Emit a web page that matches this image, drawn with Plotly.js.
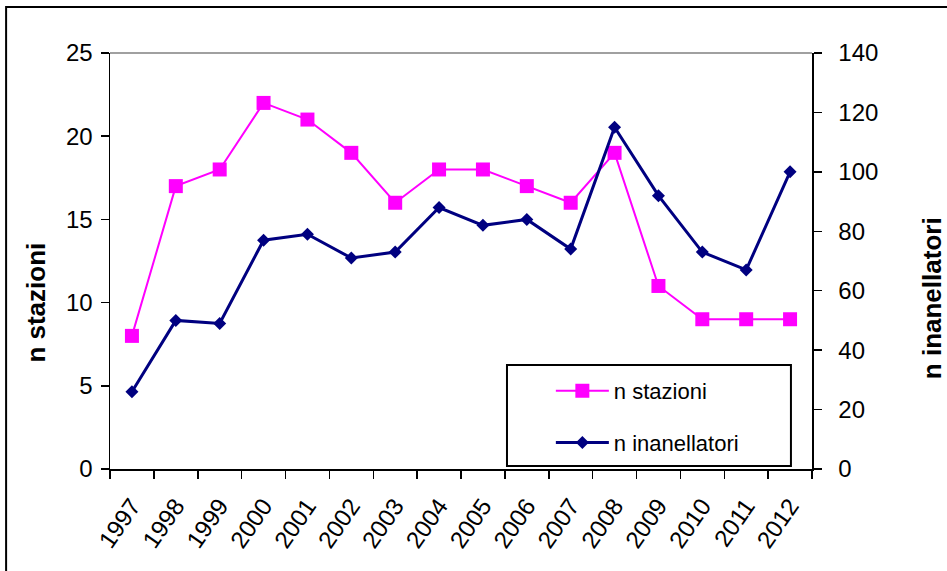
<!DOCTYPE html>
<html>
<head>
<meta charset="utf-8">
<script src="https://cdn.plot.ly/plotly-3.0.1.min.js"></script>
<style>html,body{margin:0;padding:0;background:#fff;}#chart{width:947px;height:571px;}</style>
</head>
<body>
<div id="chart"></div>
<script>
var years = ["1997","1998","1999","2000","2001","2002","2003","2004","2005","2006","2007","2008","2009","2010","2011","2012"];
var nStazioni = [8,17,18,22,21,19,16,18,18,17,16,19,11,9,9,9];
var nInanellatori = [26,50,49,77,79,71,73,88,82,84,74,115,92,73,67,100];
var leftTicks = [0,5,10,15,20,25];
var rightTicks = [0,20,40,60,80,100,120,140];

var FONT = "Liberation Sans, Arial, sans-serif";

var traces = [
  {x: years, y: nStazioni, name: "n stazioni", type: "scatter", mode: "lines+markers",
   xaxis: "x", yaxis: "y", legendgroup: "a",
   line: {color: "#FF00FF", width: 2}, marker: {symbol: "square", size: 14, color: "#FF00FF"}},
  {x: years, y: nInanellatori, name: "n inanellatori", type: "scatter", mode: "lines+markers",
   xaxis: "x", yaxis: "y2", legendgroup: "b",
   line: {color: "#000080", width: 3}, marker: {symbol: "diamond", size: 10, color: "#000080"}}
];

var baseX = {type: "category", categoryorder: "array", categoryarray: years,
  range: [-0.5, years.length - 0.5], tickson: "boundaries", ticklen: 8, tickwidth: 1.5,
  tickcolor: "#000", showgrid: false, zeroline: false, fixedrange: true};

var layout = {
  width: 947, height: 571,
  margin: {l: 110, r: 135, t: 53, b: 102},
  paper_bgcolor: "#fff", plot_bgcolor: "#fff",
  font: {family: FONT, size: 22, color: "#000"},
  showlegend: true,
  legend: {x: 0.628, y: 0.238, xanchor: "left", yanchor: "top", bgcolor: "rgba(0,0,0,0)",
    borderwidth: 0, itemwidth: 53, tracegroupgap: 20, traceorder: "grouped",
    font: {family: FONT, size: 22, color: "#000"}},
  xaxis: Object.assign({}, baseX, {ticks: "outside", showline: true, linecolor: "#000", linewidth: 1.5,
    tickangle: -55, ticklabelstandoff: 12, tickfont: {family: FONT, size: 24, color: "#000"}}),
  xaxis2: Object.assign({}, baseX, {overlaying: "x", anchor: "y", side: "bottom", ticks: "inside",
    showticklabels: false, showline: false}),
  yaxis: {range: [0, 25], tickvals: leftTicks, ticks: "outside", ticklen: 8, tickwidth: 1.5, tickcolor: "#000",
    showline: true, linecolor: "#000", linewidth: 1.5, showgrid: false, zeroline: false, ticklabelstandoff: 3,
    tickfont: {family: FONT, size: 24, color: "#000"}, fixedrange: true},
  yaxis3: {overlaying: "y", anchor: "x", side: "left", range: [0, 25], tickvals: leftTicks, ticks: "inside",
    ticklen: 8, tickwidth: 1.5, tickcolor: "#000", showticklabels: false, showline: false,
    showgrid: false, zeroline: false, fixedrange: true},
  yaxis2: {overlaying: "y", anchor: "x", side: "right", range: [0, 140], tickvals: rightTicks, ticks: "outside",
    ticklen: 8, tickwidth: 1.5, tickcolor: "#000", showline: true, linecolor: "#000", linewidth: 1.5,
    showgrid: false, zeroline: false, ticklabelstandoff: 12,
    tickfont: {family: FONT, size: 24, color: "#000"}, fixedrange: true},
  yaxis4: {overlaying: "y", anchor: "x", side: "right", range: [0, 140], tickvals: rightTicks, ticks: "inside",
    ticklen: 8, tickwidth: 1.5, tickcolor: "#000", showticklabels: false, showline: false,
    showgrid: false, zeroline: false, fixedrange: true},
  shapes: [
    {type: "line", xref: "paper", yref: "paper", x0: 0, x1: 1, y0: 1, y1: 1, line: {color: "#808080", width: 1.5}},
    {type: "rect", xref: "paper", yref: "paper", x0: 0.5655, x1: 0.970, y0: 0.007, y1: 0.25,
     line: {color: "#000", width: 2}, fillcolor: "rgba(0,0,0,0)"},
    {type: "rect", xref: "paper", yref: "paper", x0: -0.148, x1: 1.25, y0: -0.3, y1: 1.1106,
     line: {color: "#000", width: 2}, fillcolor: "rgba(0,0,0,0)"}
  ],
  annotations: [
    {text: "<b>n stazioni</b>", xref: "paper", yref: "paper", x: -0.1054, y: 0.40, textangle: -90,
     showarrow: false, xanchor: "center", yanchor: "middle", font: {family: FONT, size: 26, color: "#000"}},
    {text: "<b>n inanellatori</b>", xref: "paper", yref: "paper", x: 1.172, y: 0.41, textangle: -90,
     showarrow: false, xanchor: "center", yanchor: "middle", font: {family: FONT, size: 26, color: "#000"}}
  ]
};

Plotly.newPlot("chart", traces, layout, {displayModeBar: false, staticPlot: true});
</script>
</body>
</html>
